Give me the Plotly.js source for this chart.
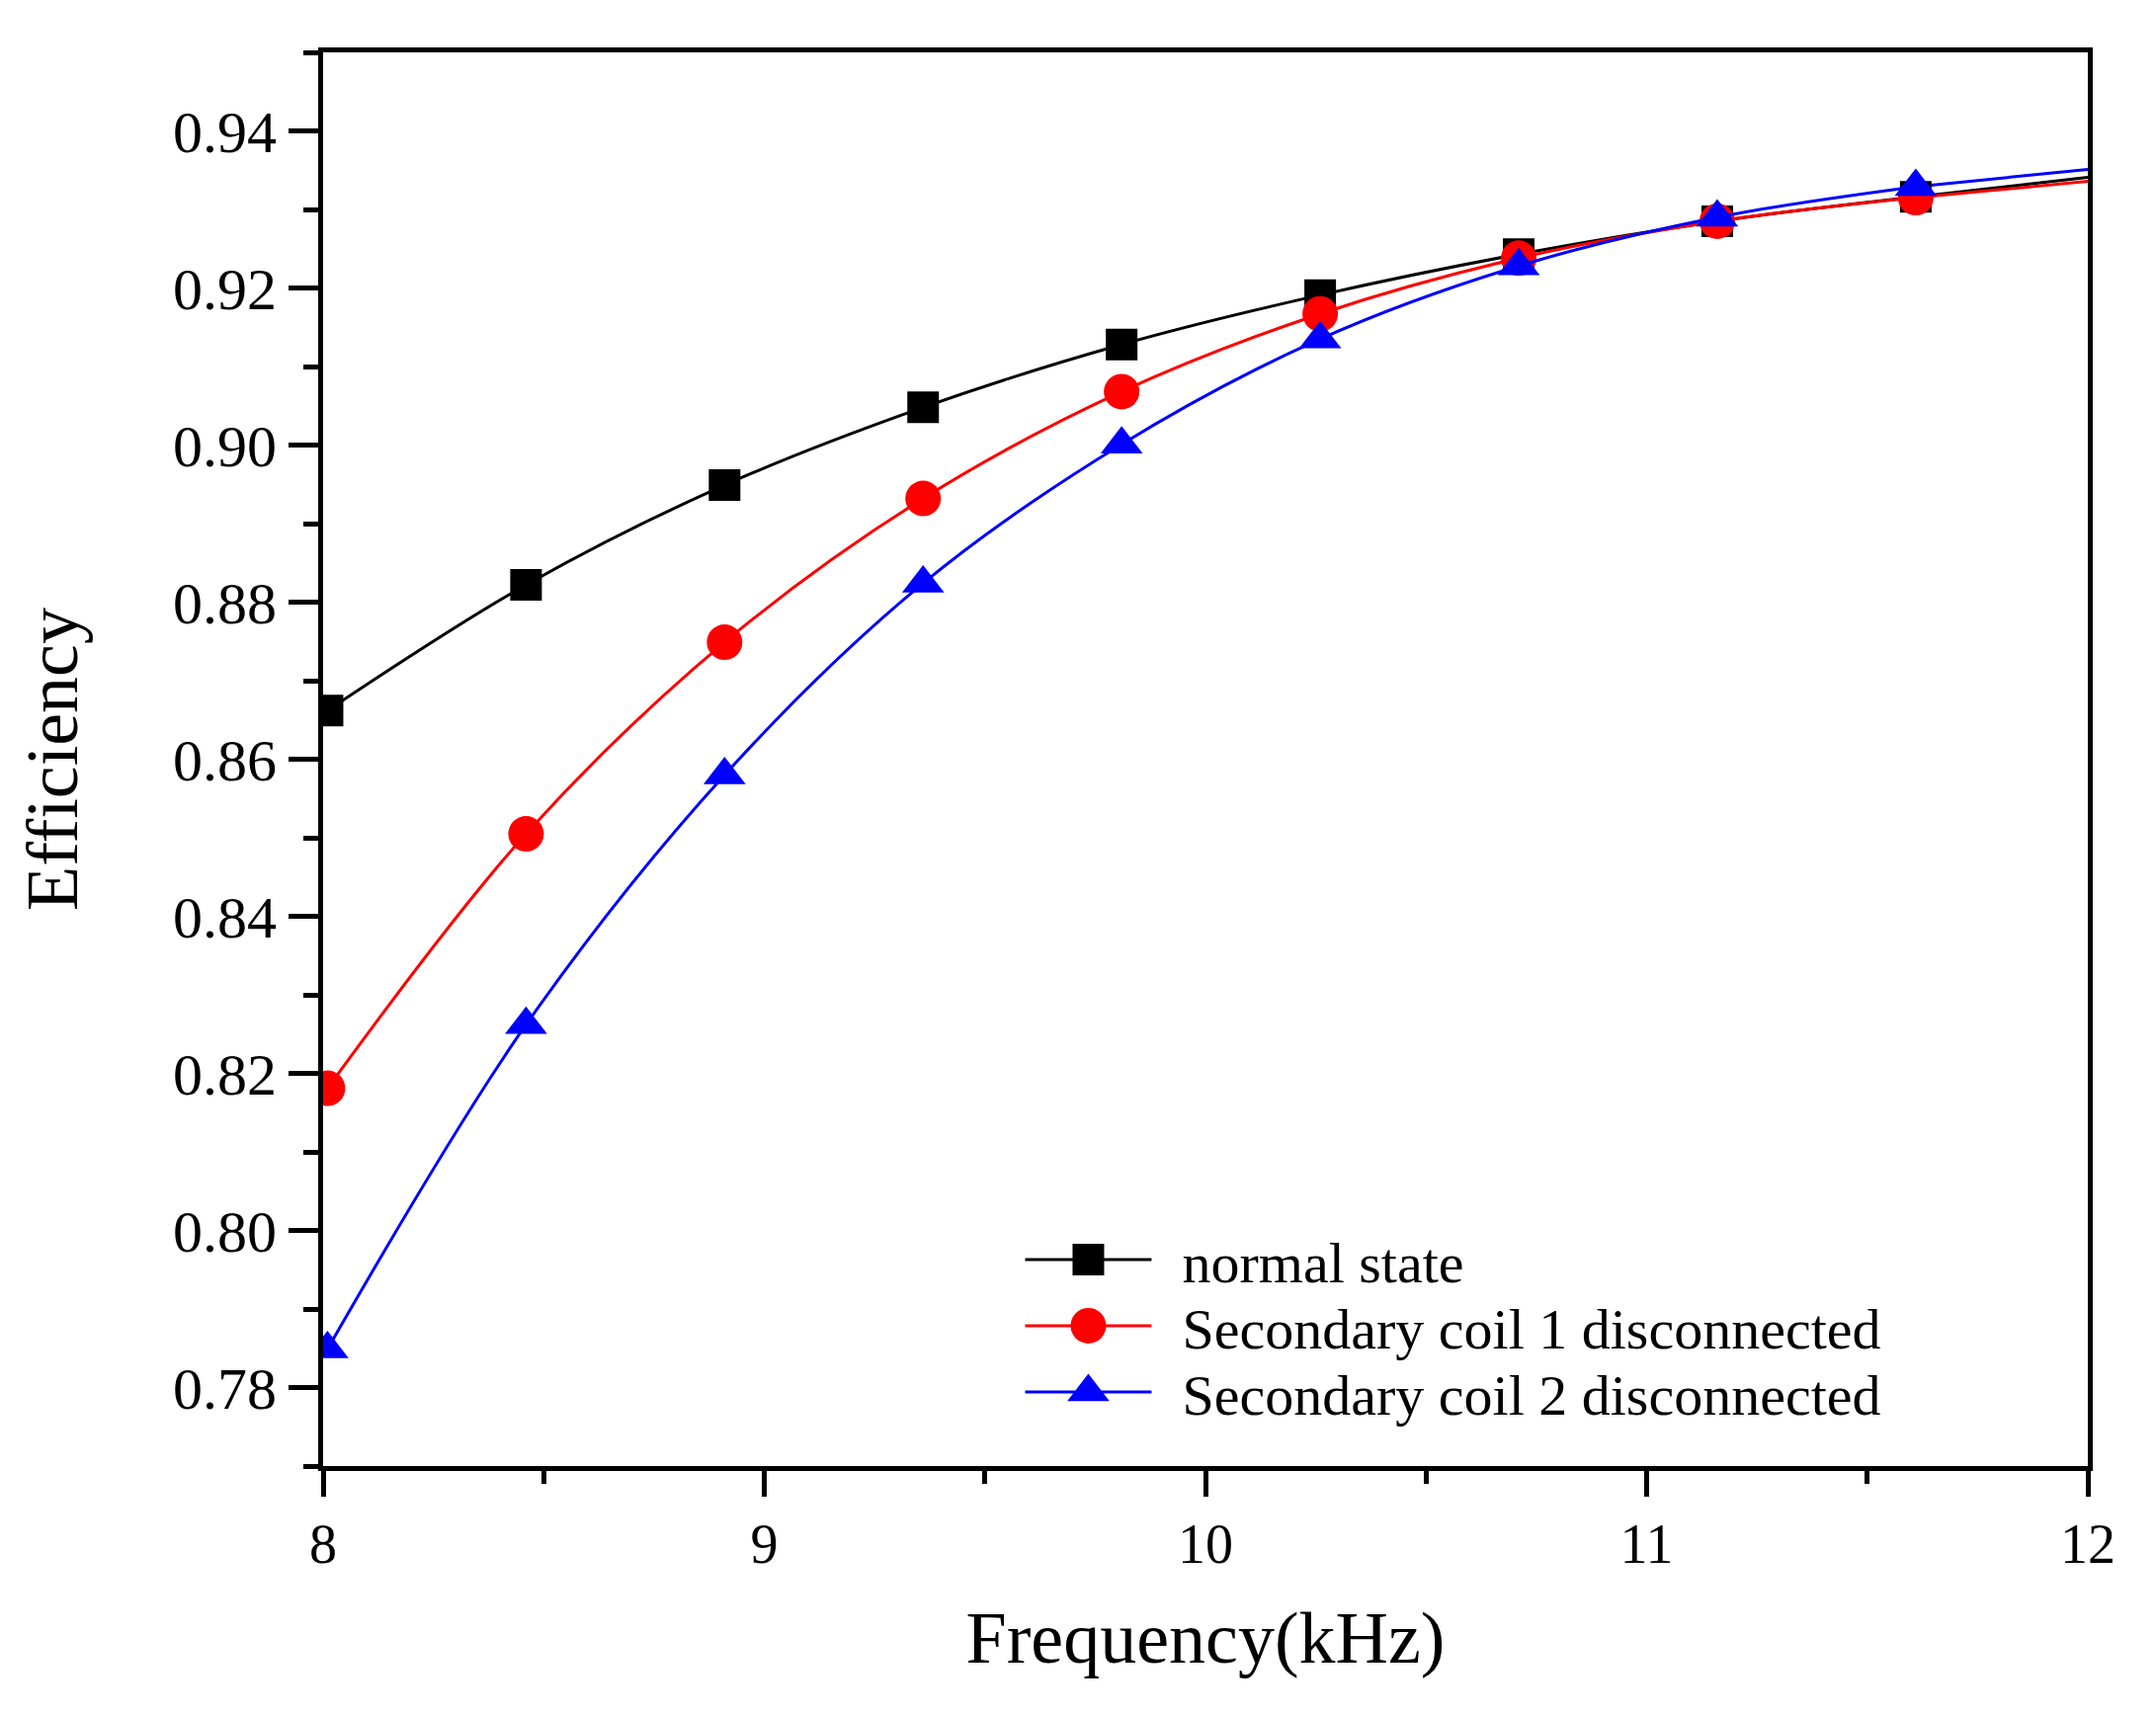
<!DOCTYPE html>
<html>
<head>
<meta charset="utf-8">
<script src="https://cdn.plot.ly/plotly-3.0.1.min.js"></script>
<style>
  body { margin: 0; background: #fff; }
  #plot { width: 2182px; height: 1737px; }
</style>
</head>
<body>
<div id="plot"></div>
<script>
// measured points (kHz)
const freq = [8.01, 8.46, 8.91, 9.36, 9.81, 10.26, 10.71, 11.16, 11.61];

const normalState = [0.8662, 0.8822, 0.8949, 0.9048, 0.9128, 0.9191, 0.9243, 0.9285, 0.9316];
const coil1Off = [0.8181, 0.8505, 0.8749, 0.8932, 0.9068, 0.9167, 0.9238, 0.9285, 0.9315];
const coil2Off = [0.7849, 0.8262, 0.8580, 0.8824, 0.9001, 0.9135, 0.9228, 0.9290, 0.9329];

// fitted curves run on past the last point up to 12 kHz
const tailFreq = [11.61, 12];
const normalTail = [0.9316, 0.9341];
const coil1Tail = [0.9315, 0.9336];
const coil2Tail = [0.9329, 0.9351];

const names = ['normal state', 'Secondary coil 1 disconnected', 'Secondary coil 2 disconnected'];

const font = '"Liberation Serif", "DejaVu Serif", serif';

function series(y, name, color, symbol, size) {
  return {
    x: freq,
    y: y,
    name: name,
    mode: 'lines+markers',
    type: 'scatter',
    line: { color: color, width: 3, shape: 'spline', smoothing: 1 },
    marker: { color: color, size: size, symbol: symbol },
  };
}

function tail(y, color) {
  return {
    x: tailFreq,
    y: y,
    mode: 'lines',
    type: 'scatter',
    showlegend: false,
    hoverinfo: 'skip',
    line: { color: color, width: 3 },
  };
}

const traces = [
  tail(normalTail, '#000000'),
  tail(coil1Tail, '#ff0000'),
  tail(coil2Tail, '#0000ff'),
  series(normalState, names[0], '#000000', 'square', 32),
  series(coil1Off, names[1], '#ff0000', 'circle', 36),
  series(coil2Off, names[2], '#0000ff', 'triangle-up', 37),
];

const layout = {
  width: 2182,
  height: 1737,
  margin: { l: 327, r: 69, t: 53, b: 253 },
  paper_bgcolor: '#ffffff',
  plot_bgcolor: '#ffffff',
  font: { family: font, color: '#000000', size: 58 },
  showlegend: true,
  legend: {
    x: 0.395,
    xanchor: 'left',
    y: 0.177,
    yanchor: 'top',
    bgcolor: 'rgba(0,0,0,0)',
    font: { family: font, size: 58, color: '#000000' },
    itemwidth: 128,
    tracegroupgap: 0,
  },
  xaxis: {
    range: [8, 12],
    dtick: 1,
    showgrid: false,
    zeroline: false,
    showline: true,
    mirror: true,
    linewidth: 5,
    linecolor: '#000000',
    ticks: 'outside',
    ticklen: 26,
    tickwidth: 5,
    tickcolor: '#000000',
    tickfont: { family: font, size: 56 },
    minor: { dtick: 0.5, ticks: 'outside', ticklen: 13, tickwidth: 5, tickcolor: '#000000' },
    title: { text: 'Frequency(kHz)', font: { family: font, size: 74 }, standoff: 39 },
  },
  yaxis: {
    range: [0.77, 0.95],
    dtick: 0.02,
    tickformat: '.2f',
    showgrid: false,
    zeroline: false,
    showline: true,
    mirror: true,
    linewidth: 5,
    linecolor: '#000000',
    ticks: 'outside',
    ticklen: 30,
    tickwidth: 5,
    tickcolor: '#000000',
    tickfont: { family: font, size: 60 },
    minor: { dtick: 0.01, ticks: 'outside', ticklen: 15, tickwidth: 5, tickcolor: '#000000' },
    title: { text: 'Efficiency', font: { family: font, size: 74 }, standoff: 74 },
  },
};

const config = {
  displayModeBar: false,
  staticPlot: true,
};

// legend rows: tighter spacing, full-size symbols, text a little further from the line
const rowGap = 67;
const textShift = 26;

Plotly.newPlot('plot', traces, layout, config).then(function (gd) {
  const box = gd.querySelector('.legend .scrollbox');
  if (box) box.removeAttribute('clip-path');
  const items = gd.querySelectorAll('.legend .traces');
  const plotted = gd.querySelectorAll('.scatterlayer .trace');
  let x0 = 0, y0 = 0;
  items.forEach(function (item, i) {
    const m = /translate\(([-\d.]+)[ ,]+([-\d.]+)\)/.exec(item.getAttribute('transform') || '');
    if (m && i === 0) { x0 = +m[1]; y0 = +m[2]; }
    item.setAttribute('transform', 'translate(' + x0 + ',' + (y0 + i * rowGap) + ')');
    const src = plotted[3 + i] && plotted[3 + i].querySelector('.points path');
    const dst = item.querySelector('.legendpoints .scatterpts');
    if (src && dst) dst.setAttribute('d', src.getAttribute('d'));
    const txt = item.querySelector('.legendtext');
    if (txt) txt.setAttribute('x', (+txt.getAttribute('x') || 0) + textShift);
  });
});
</script>
</body>
</html>
